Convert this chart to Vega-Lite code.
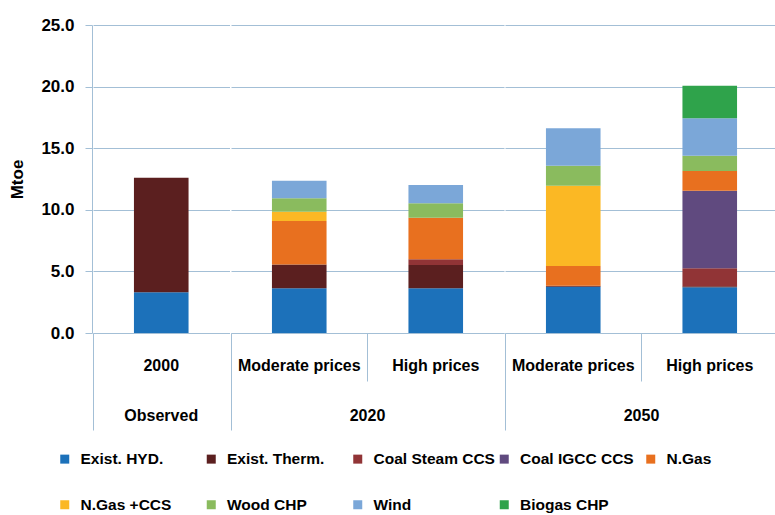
{
  "$schema": "https://vega.github.io/schema/vega-lite/v6.json",
  "padding": {"left": 8, "top": 16, "right": 0, "bottom": 0},
  "config": {
    "view": {"stroke": null},
    "font": "Liberation Sans",
    "axis": {"gridColor": "#a3bfd6", "domainColor": "#a3bfd6", "tickColor": "#a3bfd6", "labelColor": "#000000", "titleColor": "#000000"}
  },
  "datasets": {
    "sources": [
      {"source": "Exist. HYD.", "rank": 1},
      {"source": "Exist. Therm.", "rank": 2},
      {"source": "Coal Steam CCS", "rank": 3},
      {"source": "Coal IGCC CCS", "rank": 4},
      {"source": "N.Gas", "rank": 5},
      {"source": "N.Gas +CCS", "rank": 6},
      {"source": "Wood CHP", "rank": 7},
      {"source": "Wind", "rank": 8},
      {"source": "Biogas CHP", "rank": 9}
    ]
  },
  "data": {
    "values": [
      {"period": "Observed", "scenario": "2000", "source": "Exist. HYD.", "value": 3.3},
      {"period": "Observed", "scenario": "2000", "source": "Exist. Therm.", "value": 9.3},
      {"period": "2020", "scenario": "Moderate prices", "source": "Exist. HYD.", "value": 3.63},
      {"period": "2020", "scenario": "Moderate prices", "source": "Exist. Therm.", "value": 1.94},
      {"period": "2020", "scenario": "Moderate prices", "source": "N.Gas", "value": 3.52},
      {"period": "2020", "scenario": "Moderate prices", "source": "N.Gas +CCS", "value": 0.76},
      {"period": "2020", "scenario": "Moderate prices", "source": "Wood CHP", "value": 1.08},
      {"period": "2020", "scenario": "Moderate prices", "source": "Wind", "value": 1.43},
      {"period": "2020", "scenario": "High prices", "source": "Exist. HYD.", "value": 3.63},
      {"period": "2020", "scenario": "High prices", "source": "Exist. Therm.", "value": 1.89},
      {"period": "2020", "scenario": "High prices", "source": "Coal Steam CCS", "value": 0.46},
      {"period": "2020", "scenario": "High prices", "source": "N.Gas", "value": 3.38},
      {"period": "2020", "scenario": "High prices", "source": "Wood CHP", "value": 1.17},
      {"period": "2020", "scenario": "High prices", "source": "Wind", "value": 1.48},
      {"period": "2050", "scenario": "Moderate prices", "source": "Exist. HYD.", "value": 3.76},
      {"period": "2050", "scenario": "Moderate prices", "source": "Exist. Therm.", "value": 0.08},
      {"period": "2050", "scenario": "Moderate prices", "source": "N.Gas", "value": 1.6},
      {"period": "2050", "scenario": "Moderate prices", "source": "N.Gas +CCS", "value": 6.52},
      {"period": "2050", "scenario": "Moderate prices", "source": "Wood CHP", "value": 1.62},
      {"period": "2050", "scenario": "Moderate prices", "source": "Wind", "value": 3.03},
      {"period": "2050", "scenario": "High prices", "source": "Exist. HYD.", "value": 3.71},
      {"period": "2050", "scenario": "High prices", "source": "Exist. Therm.", "value": 0.08},
      {"period": "2050", "scenario": "High prices", "source": "Coal Steam CCS", "value": 1.46},
      {"period": "2050", "scenario": "High prices", "source": "Coal IGCC CCS", "value": 6.3},
      {"period": "2050", "scenario": "High prices", "source": "N.Gas", "value": 1.6},
      {"period": "2050", "scenario": "High prices", "source": "Wood CHP", "value": 1.24},
      {"period": "2050", "scenario": "High prices", "source": "Wind", "value": 3.04},
      {"period": "2050", "scenario": "High prices", "source": "Biogas CHP", "value": 2.64}
    ]
  },
  "transform": [
    {"lookup": "source", "from": {"data": {"name": "sources"}, "key": "source", "fields": ["rank"]}}
  ],
  "facet": {
    "column": {
      "field": "period", "type": "nominal", "sort": ["Observed", "2020", "2050"],
      "header": {"title": null, "labelOrient": "bottom", "labelFontSize": 16, "labelFontWeight": "bold", "labelColor": "#000000", "labelPadding": -23}
    }
  },
  "spacing": 0,
  "spec": {
    "width": {"step": 136.5},
    "height": 308,
    "mark": {"type": "bar"},
    "encoding": {
      "x": {
        "field": "scenario", "type": "nominal", "sort": ["2000", "Moderate prices", "High prices"],
        "scale": {"paddingInner": 0.6, "paddingOuter": 0.3},
        "axis": {
          "title": null, "labelAngle": 0, "labelFontSize": 16, "labelFontWeight": "bold", "labelBaseline": "middle",
          "bandPosition": -0.75, "grid": false,
          "tickSize": {"condition": {"test": "datum.value !== 'High prices'", "value": 97}, "value": 48},
          "labelPadding": {"condition": {"test": "datum.value !== 'High prices'", "value": -65}, "value": -16}
        }
      },
      "y": {
        "field": "value", "type": "quantitative", "stack": "zero",
        "scale": {"domain": [0, 25]},
        "axis": {"title": "Mtoe", "values": [0, 5, 10, 15, 20, 25], "format": ".1f", "domain": true, "labelFontSize": 17, "labelFontWeight": "bold", "labelPadding": 11, "tickSize": 7, "titleFontSize": 17, "titleFontWeight": "bold", "titlePadding": 14}
      },
      "order": {"field": "rank", "type": "quantitative", "sort": "ascending"},
      "color": {
        "field": "source", "type": "nominal",
        "sort": ["Exist. HYD.", "Exist. Therm.", "Coal Steam CCS", "Coal IGCC CCS", "N.Gas", "N.Gas +CCS", "Wood CHP", "Wind", "Biogas CHP"],
        "scale": {
          "domain": ["Exist. HYD.", "Exist. Therm.", "Coal Steam CCS", "Coal IGCC CCS", "N.Gas", "N.Gas +CCS", "Wood CHP", "Wind", "Biogas CHP"],
          "range": ["#1c71ba", "#5b1f1f", "#913436", "#604a7f", "#e8701f", "#fbb824", "#8abb5e", "#7ba7d8", "#2fa34b"]
        },
        "legend": {
          "title": null, "orient": "none", "legendX": -36, "legendY": 426, "direction": "horizontal", "columns": 5, "gridAlign": "all",
          "symbolType": "square", "symbolSize": 81, "symbolStrokeWidth": 0, "labelFontSize": 15.5, "labelFontWeight": "bold", "labelColor": "#000000",
          "labelOffset": 8, "columnPadding": 1.5, "rowPadding": 29, "labelLimit": 300
        }
      }
    }
  },
  "resolve": {"scale": {"x": "independent"}}
}
